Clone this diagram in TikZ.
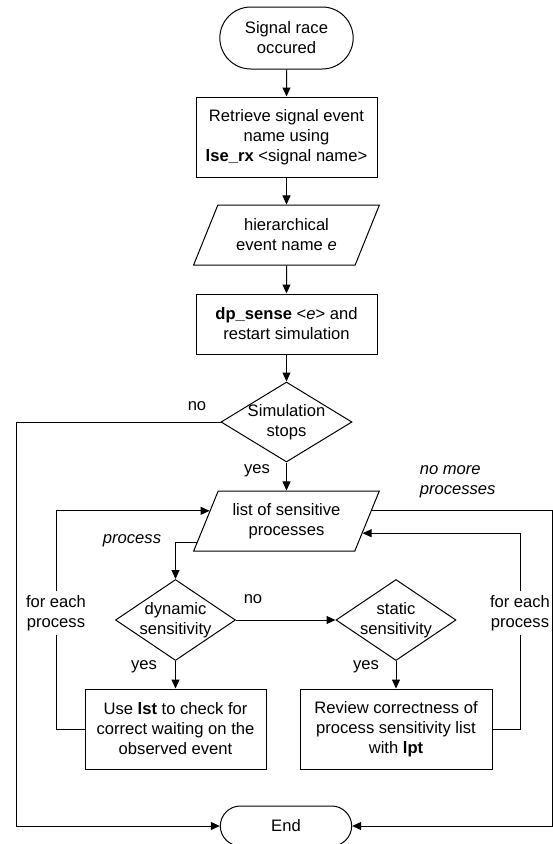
\documentclass[tikz,border=0pt]{standalone}
\usepackage{fontspec}
\setmainfont{Liberation Sans}
\usetikzlibrary{arrows.meta,shapes.geometric,shapes.misc,calc}
\newcommand{\flowfont}{\fontsize{16.6}{20}\selectfont}

\begin{document}
\begin{tikzpicture}
	[x=1pt,y=-1pt,line width=1pt,
	every node/.style={font=\flowfont, align=center},
	term/.style={rounded rectangle, draw, minimum width=140, minimum height=62},
	proc/.style={rectangle, draw, minimum width=181, minimum height=80},
	io/.style={trapezium, draw, trapezium left angle=64, trapezium right angle=116,
		trapezium stretches=true, minimum width=186, minimum height=60},
	decision/.style={diamond, draw, inner sep=0pt, minimum width=120, minimum height=81},
	arr/.style={-{Triangle[length=9pt,width=8pt]}},
	itlbl/.style={font=\flowfont\itshape}]
	\useasboundingbox (0,0) rectangle (553,844);

	\node[term] (start) at (286.5,38) {Signal race\\occured};
	\node[proc] (fetch) at (286.5,137) {Retrieve signal event\\name using\\\textbf{lse\_rx} <signal name>};
	\node[io] (evname) at (286.5,235) {hierarchical\\event name \textit{e}};
	\node[proc, minimum height=60] (sense) at (286.5,324) {\textbf{dp\_sense} <\textit{e}> and\\restart simulation};
	\node[decision, minimum width=131, minimum height=80,
		label={[align=center]center:Simulation\\stops}] (sim) at (286.5,422) {};
	\node[io] (plist) at (286.5,521) {list of sensitive\\processes};
	\node[decision, label={[align=center]center:dynamic\\sensitivity}] (dyn) at (175.5,620) {};
	\node[decision, label={[align=center]center:static\\sensitivity}] (stat) at (396,620) {};
	\node[proc] (usebox) at (175.5,729) {Use \textbf{lst} to check for\\correct waiting on the\\observed event};
	\node[proc, minimum width=192] (revbox) at (396,729) {Review correctness of\\process sensitivity list\\with \textbf{lpt}};
	\node[term, minimum width=138, minimum height=40] (endnode) at (286,826) {End};

	% labels
	\node (no1) at (197,406) {no};
	\node (yes1) at (257,471) {yes};
	\node[itlbl, anchor=west, align=left] (nomore) at (416,482) {no more\\processes};
	\node[itlbl] (proclbl) at (132,541) {process};
	\node (feach1) at (56,613) {for each\\process};
	\node (feach2) at (520,613) {for each\\process};
	\node (no2) at (253,599) {no};
	\node (yes2) at (144,667) {yes};
	\node (yes3) at (366,667) {yes};

	\coordinate (lin) at ($(plist.top left corner)!0.333!(plist.bottom left corner)$);
	\coordinate (pin) at ($(plist.top left corner)!0.85!(plist.bottom left corner)$);
	\coordinate (lout) at ($(plist.top right corner)!0.333!(plist.bottom right corner)$);
	\coordinate (rin) at ($(plist.top right corner)!0.7!(plist.bottom right corner)$);
	\coordinate (lline) at (16,0);
	\coordinate (rline) at (552.5,0);

	\foreach \from/\to in {start/fetch,fetch/evname,evname/sense,sense/sim,sim/plist,dyn/stat,dyn/usebox,stat/revbox}
	\draw[arr] (\from) -- (\to);

	\draw[arr] (sim.west) -- (sim.west -| lline) |- (endnode.west);
	\draw[arr] (lout) -- (lout -| rline) |- (endnode.east);
	\draw[arr] (pin) -| (dyn.north);
	\draw (usebox.west) -| (feach1.south);
	\draw[arr] (feach1.north) |- (lin);
	\draw (revbox.east) -| (feach2.south);
	\draw[arr] (feach2.north) |- (rin);
\end{tikzpicture}
\end{document}
